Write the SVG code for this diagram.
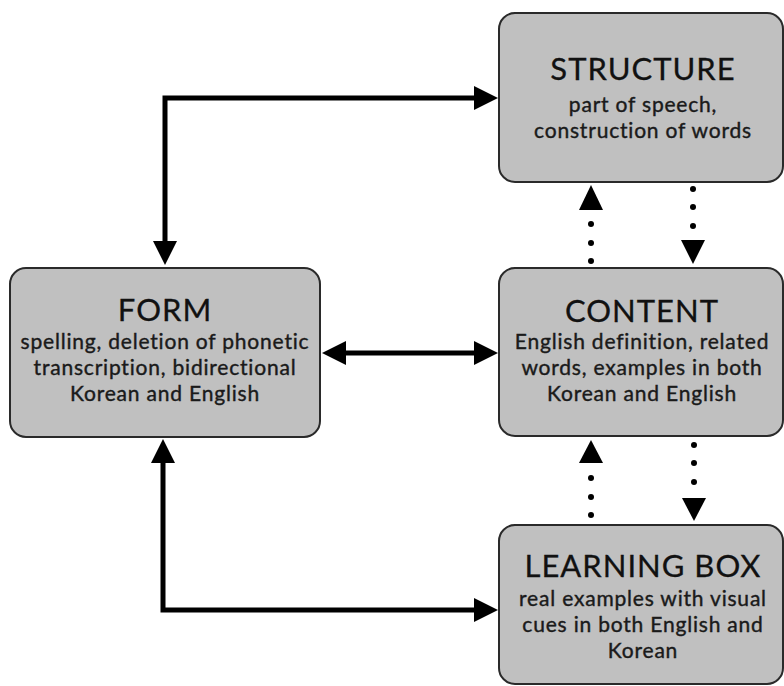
<svg xmlns="http://www.w3.org/2000/svg" width="784" height="686" viewBox="0 0 784 686">
<defs>
<style>
.box{fill:#c0c0c0;stroke:#2a2a2a;stroke-width:2}
.title{font-family:Lato,"Liberation Sans",sans-serif;font-size:31px;letter-spacing:1px;fill:#111;stroke:#111;stroke-width:0.3;text-anchor:middle}
.sub{font-family:Lato,"Liberation Sans",sans-serif;font-size:21px;letter-spacing:0.8px;fill:#1a1a1a;stroke:#1a1a1a;stroke-width:0.4;text-anchor:middle}
.conn{fill:none;stroke:#000;stroke-width:5}
.dot{fill:#000}
.head{fill:#000}
</style>
</defs>
<rect width="784" height="686" fill="#fff"/>
<g id="connectors">
<path class="conn" d="M165,243 V98 H475"/>
<polygon class="head" points="153,241 177,241 165,265"/>
<polygon class="head" points="474,86 474,110 498,98"/>
<path class="conn" d="M345,353 H475"/>
<polygon class="head" points="346,341 346,365 322,353"/>
<polygon class="head" points="474,341 474,365 498,353"/>
<path class="conn" d="M163,462 V610 H475"/>
<polygon class="head" points="151,463 175,463 163,439"/>
<polygon class="head" points="474,598 474,622 498,610"/>
<polygon class="head" points="579,210 603,210 591,185"/>
<circle class="dot" cx="591" cy="224" r="3"/>
<circle class="dot" cx="591" cy="243" r="3"/>
<circle class="dot" cx="591" cy="261" r="3"/>
<circle class="dot" cx="693" cy="189" r="3"/>
<circle class="dot" cx="693" cy="207" r="3"/>
<circle class="dot" cx="693" cy="226" r="3"/>
<polygon class="head" points="681,240 705,240 693,264"/>
<polygon class="head" points="579,463 603,463 591,440"/>
<circle class="dot" cx="591" cy="478" r="3"/>
<circle class="dot" cx="591" cy="497" r="3"/>
<circle class="dot" cx="591" cy="515" r="3"/>
<circle class="dot" cx="694" cy="445" r="3"/>
<circle class="dot" cx="694" cy="463" r="3"/>
<circle class="dot" cx="694" cy="482" r="3"/>
<polygon class="head" points="682,498 706,498 694,521"/>
</g>
<g id="structure">
<rect class="box" x="499" y="13" width="284" height="169" rx="16"/>
<text class="title" x="643" y="80">STRUCTURE</text>
<text class="sub" x="643" y="112">part of speech,</text>
<text class="sub" x="643" y="138">construction of words</text>
</g>
<g id="form">
<rect class="box" x="10" y="268" width="310" height="169" rx="16"/>
<text class="title" x="165" y="321">FORM</text>
<text class="sub" x="165" y="349">spelling, deletion of phonetic</text>
<text class="sub" x="165" y="375">transcription, bidirectional</text>
<text class="sub" x="165" y="401">Korean and English</text>
</g>
<g id="content">
<rect class="box" x="499" y="268" width="284" height="168" rx="16"/>
<text class="title" x="642" y="322">CONTENT</text>
<text class="sub" x="642" y="349">English definition, related</text>
<text class="sub" x="642" y="375">words, examples in both</text>
<text class="sub" x="642" y="401">Korean and English</text>
</g>
<g id="learning-box">
<rect class="box" x="499" y="525" width="284" height="159" rx="16"/>
<text class="title" x="643" y="577">LEARNING BOX</text>
<text class="sub" x="643" y="606">real examples with visual</text>
<text class="sub" x="643" y="632">cues in both English and</text>
<text class="sub" x="643" y="658">Korean</text>
</g>
</svg>
